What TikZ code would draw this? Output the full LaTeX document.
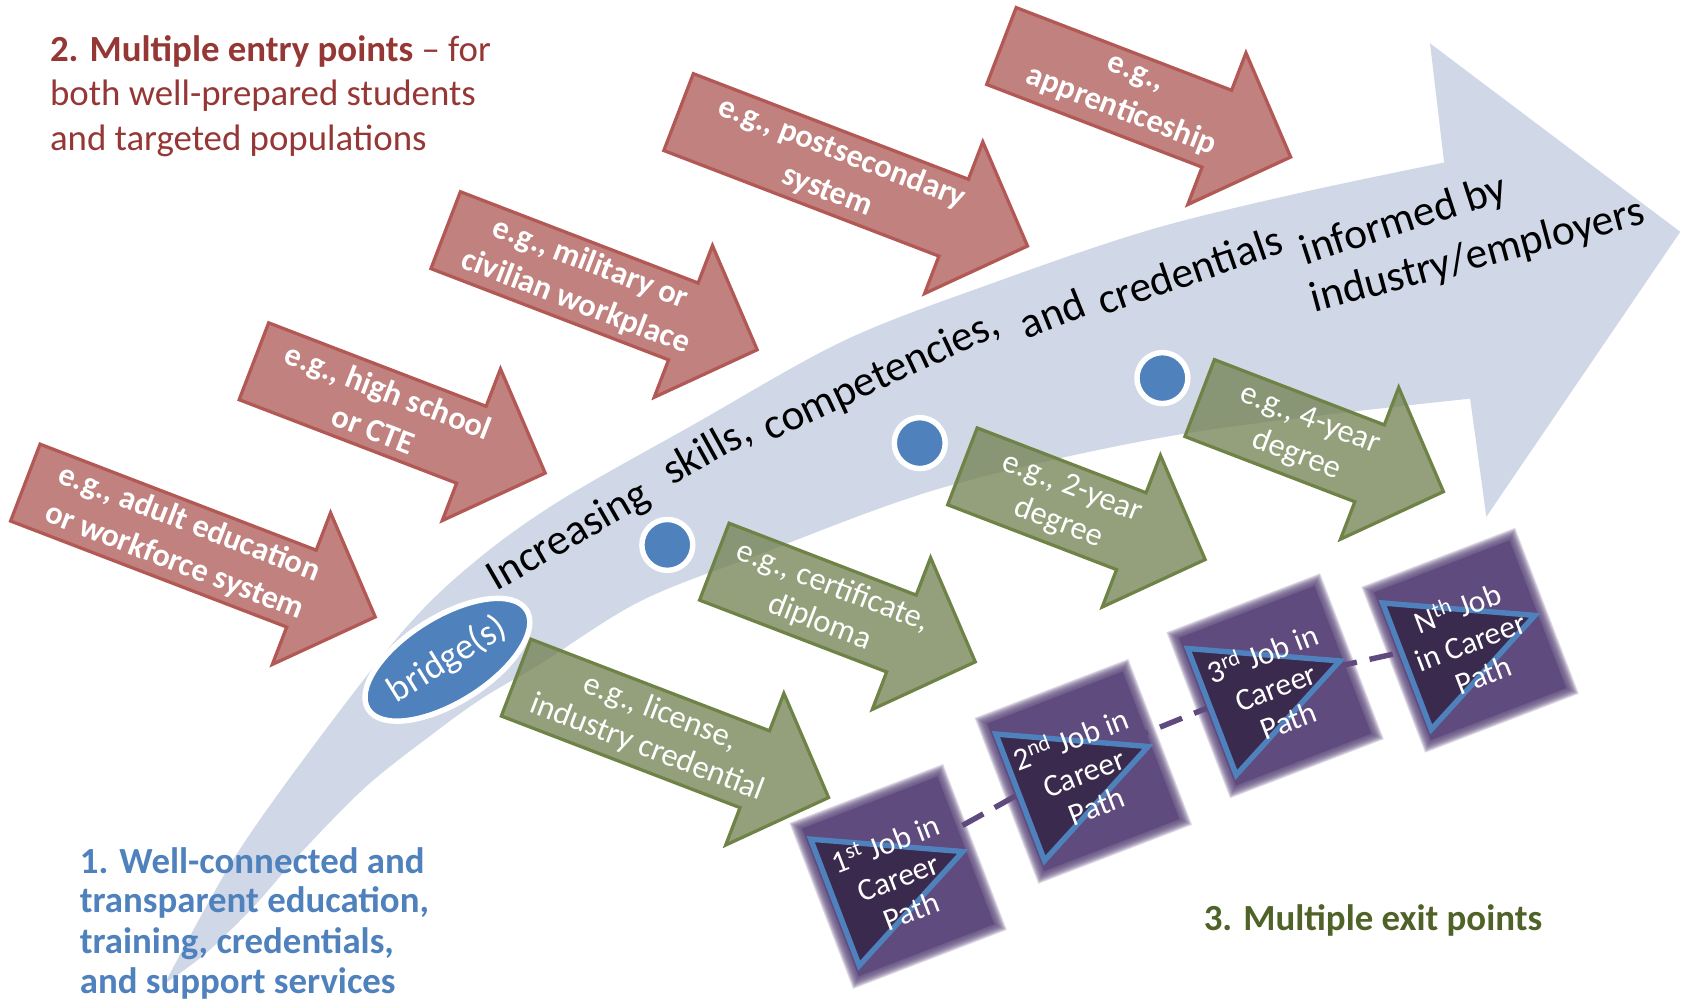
\documentclass[tikz,border=0pt]{standalone}
\usepackage{fontspec}
\setmainfont{Carlito}
\usetikzlibrary{shapes.geometric}
\definecolor{bandblue}{HTML}{D0D8E8}
\definecolor{redfill}{HTML}{C0817F}
\definecolor{reddraw}{HTML}{B35955}
\definecolor{greenfill}{HTML}{70804F}
\definecolor{greendraw}{HTML}{6F8347}
\definecolor{dotblue}{HTML}{4F81BD}
\definecolor{jobpurple}{HTML}{5F4B7D}
\definecolor{jobdark}{HTML}{3A2A4D}
\definecolor{titlered}{HTML}{953735}
\definecolor{titleblue}{HTML}{4F81BD}
\definecolor{titlegreen}{HTML}{4F6228}
\definecolor{dashpurple}{HTML}{5F4A80}
\newcommand\arrH{73}
\newcommand\arrW{76}
\newcommand\arrX{37}
\tikzset{
  redarrow/.style={fill=redfill, draw=reddraw, line width=3pt},
  redtxt/.style={text=white, font=\bfseries\fontsize{30}{38}\selectfont, align=center, inner sep=0pt},
  greenarrow/.style={fill=greenfill, fill opacity=0.75, draw=greendraw, line width=3pt},
  greentxt/.style={text=white, font=\fontsize{30}{35}\selectfont, align=center, inner sep=0pt},
  bandtxt/.style={text=black, font=\fontsize{40}{40}\selectfont, inner sep=0pt},
  dot/.style={circle, fill=dotblue, draw=white, line width=5pt, minimum size=47pt, inner sep=0pt},
  jobtri/.style={fill=jobdark, draw=dotblue, line width=5pt},
  jobtext/.style={text=white, font=\fontsize{29}{33}\selectfont, align=center, inner sep=0pt},
  dashline/.style={draw=dashpurple, line width=5pt, dash pattern=on 22pt off 12pt},
  titletxt/.style={anchor=base west, font=\fontsize{34}{41}\selectfont, inner sep=0pt}
}
\newcommand\flowarrow[6]{%
  \begin{scope}[shift={(#2,#3)}, rotate=-21]
    \path[#5arrow] (0,0) -- (#4,0) -- (#4,-\arrX) -- ({#4+\arrH},{\arrW/2}) -- (#4,{\arrW+\arrX}) -- (#4,\arrW) -- (0,\arrW) -- cycle;
    \node[#5txt, rotate=-21] (#1) at ({#4/2+\arrH/4},{\arrW/2}) {#6};
  \end{scope}}
\newcommand\jobbox[4]{%
  \begin{scope}[shift={(#2,#3)}, rotate=21]
    \foreach \e in {4,3,...,-4}{\fill[jobpurple, opacity=0.22] ({-(72+\e)},{-(78+\e)}) rectangle ({72+\e},{78+\e});}
    \fill[jobpurple] (-67,-73) rectangle (67,73);
    \draw[jobtri] (-63,-61) -- (64,0) -- (-63,64) -- cycle;
  \end{scope}
  \node[jobtext, rotate=21] (#1) at (#2,#3) {#4};}
\begin{document}
\begin{tikzpicture}[x=1pt,y=-1pt]
\useasboundingbox (0,0) rectangle (1560,924);
% big curved arrow
\fill[bandblue] plot[smooth, tension=0.55] coordinates {(152,908) (215,794) (289,689) (375,579) (440,517) (517,462) (640,392) (780,314) (920,260) (1062,212) (1200,178) (1333,150)}
  -- (1320,40) -- (1551,214) -- (1372,477) -- (1357,368)
  -- plot[smooth, tension=0.55] coordinates {(1357,368) (1095,400) (874,449) (700,512) (591,555) (500,612) (446,644) (400,677) (338,726) (277,788) (235,836) (190,880) (152,908)} -- cycle;
% entry arrows
\flowarrow{r1}{37}{410}{273}{red}{e.g., adult education\\or workforce system}
\flowarrow{r2}{248}{298}{215}{red}{e.g., high school\\or CTE}
\flowarrow{r3}{425}{177}{235}{red}{e.g., military or\\civilian workplace}
\flowarrow{r4}{640}{68}{272}{red}{e.g., postsecondary\\system}
\flowarrow{r5}{938}{7}{213}{red}{e.g.,\\apprenticeship}
% credential arrows
\flowarrow{g1}{490}{590}{236}{green}{e.g., license,\\industry credential}
\flowarrow{g2}{673}{483}{185}{green}{e.g., certificate,\\diploma}
\flowarrow{g3}{902}{395}{167}{green}{e.g., 2-year\\degree}
\flowarrow{g4}{1121}{332}{168}{green}{e.g., 4-year\\degree}
% dots and bridge
\node[dot] (d1) at (616,503) {};
\node[dot] (d2) at (849,409) {};
\node[dot] (d3) at (1073,349) {};
\node[ellipse, fill=dotblue, draw=white, line width=5pt, minimum width=163pt, minimum height=79pt, inner sep=0pt, rotate=32, text=white, font=\fontsize{34}{34}\selectfont] (bridge) at (413,609) {bridge(s)};
% band text
\node[bandtxt, rotate=30] (w1) at (525,496) {Increasing};
\node[bandtxt, rotate=29] (w2) at (653,417) {skills,};
\node[bandtxt, rotate=25] (w3) at (814,348) {competencies,};
\node[bandtxt, rotate=22] (w4) at (971,289) {and};
\node[bandtxt, rotate=19] (w5) at (1098,249) {credentials};
\node[bandtxt, rotate=18] (w6) at (1296,204) {informed by};
\node[bandtxt, rotate=15] (w7) at (1364,237) {industry/employers};
% career path
\coordinate (p1) at (829,795);
\coordinate (p2) at (1000,700);
\coordinate (p3) at (1177,628);
\coordinate (p4) at (1357,588);
\draw[dashline] (p1) -- (p2) -- (p3) -- (p4);
\jobbox{j1}{829}{809}{1\textsuperscript{st} Job in\\Career\\Path}
\jobbox{j2}{1000}{712}{2\textsuperscript{nd} Job in\\Career\\Path}
\jobbox{j3}{1177}{633}{3\textsuperscript{rd} Job in\\Career\\Path}
\jobbox{j4}{1357}{591}{N\textsuperscript{th} Job\\in Career\\Path}
% titles
\node[titletxt, text=titlered] (t2a) at (46,57) {\textbf{2. Multiple entry points} – for};
\node[titletxt, text=titlered] (t2b) at (46,97) {both well-prepared students};
\node[titletxt, text=titlered] (t2c) at (46,138.5) {and targeted populations};
\node[titletxt, text=titleblue, font=\bfseries\fontsize{34}{41}\selectfont] (t1a) at (73.5,806) {1. Well-connected and};
\node[titletxt, text=titleblue, font=\bfseries\fontsize{34}{41}\selectfont] (t1b) at (73.5,842.5) {transparent education,};
\node[titletxt, text=titleblue, font=\bfseries\fontsize{34}{41}\selectfont] (t1c) at (73.5,880) {training, credentials,};
\node[titletxt, text=titleblue, font=\bfseries\fontsize{34}{41}\selectfont] (t1d) at (73.5,917) {and support services};
\node[titletxt, text=titlegreen, font=\bfseries\fontsize{34}{41}\selectfont] (t3) at (1111,859) {3. Multiple exit points};
\end{tikzpicture}
\end{document}
